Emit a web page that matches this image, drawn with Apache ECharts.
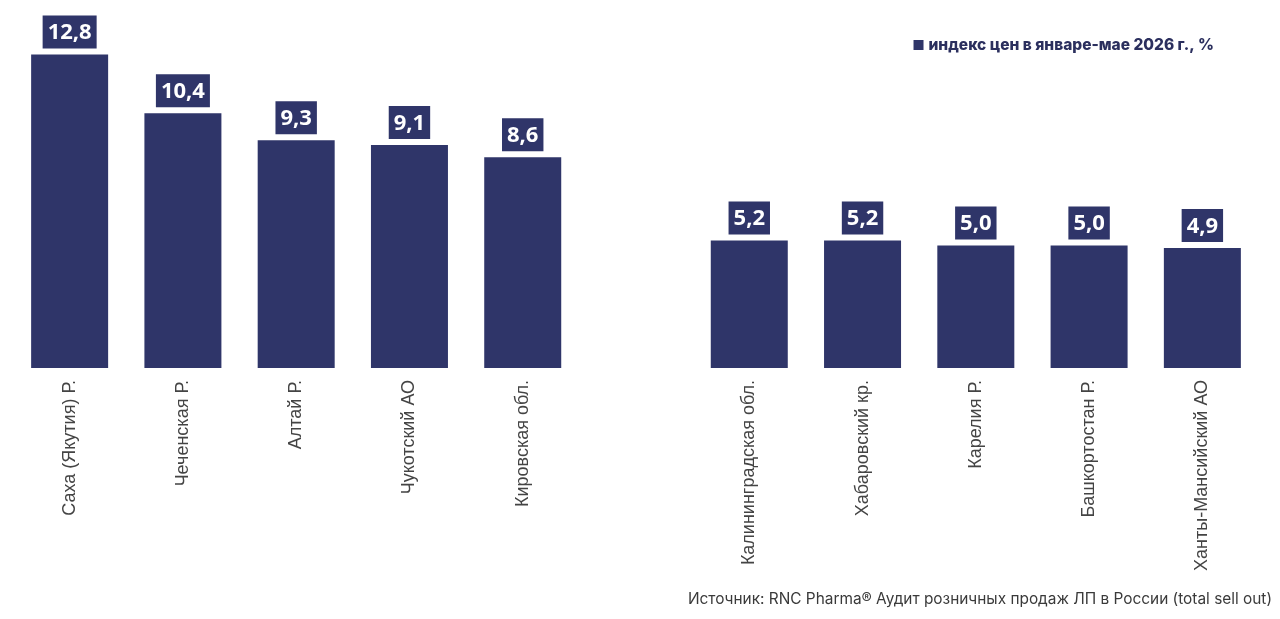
<!DOCTYPE html>
<html>
<head>
<meta charset="utf-8">
<script src="https://cdn.jsdelivr.net/npm/echarts@6/dist/echarts.min.js"></script>
<style>
    html, body { margin: 0; padding: 0; background: #fff; }
</style>
</head>
<body>

<div id="main" style="width: 1280px;height:619px;"></div>
<script type="text/javascript">
    // регионы (пустая категория — разрыв между группами)
    var regions = ['Саха (Якутия) Р.', 'Чеченская Р.', 'Алтай Р.', 'Чукотский АО', 'Кировская обл.',
        '', 'Калининградская обл.', 'Хабаровский кр.', 'Карелия Р.', 'Башкортостан Р.', 'Ханты-Мансийский АО'];
    var priceIndex = [12.8, 10.4, 9.3, 9.1, 8.6, null, 5.2, 5.2, 5.0, 5.0, 4.9];
    var seriesName = 'индекс цен в январе-мае 2026 г., %';
    var sourceText = 'Источник: RNC Pharma® Аудит розничных продаж ЛП в России (total sell out)';

    var navy = '#2f3569';

    var myChart = echarts.init(document.getElementById('main'));

    var option = {
        backgroundColor: '#fff',
        animation: false,
        legend: {
            data: [seriesName],
            right: 61,
            top: 32,
            icon: 'rect',
            itemWidth: 10,
            itemHeight: 10,
            itemGap: 5,
            textStyle: {
                fontFamily: 'Inter',
                fontWeight: 800,
                fontSize: 15.5,
                color: '#2b2f5e'
            }
        },
        graphic: [{
            type: 'text',
            right: 8,
            top: 592,
            style: {
                text: sourceText,
                fontFamily: 'Inter',
                fontSize: 15.4,
                fill: '#3a3a3a'
            }
        }],
        grid: {
            left: 13,
            right: 21,
            top: 25,
            height: 343,
            containLabel: false
        },
        xAxis: {
            type: 'category',
            data: regions,
            axisLine: { show: false },
            axisTick: { show: false },
            axisLabel: {
                rotate: 90,
                interval: 0,
                margin: 12,
                fontFamily: 'Liberation Sans',
                fontSize: 18,
                color: '#444'
            }
        },
        yAxis: {
            type: 'value',
            min: 0,
            max: 14,
            show: false,
            splitLine: { show: false }
        },
        series: [{
            name: seriesName,
            type: 'bar',
            data: priceIndex,
            barWidth: 77,
            itemStyle: { color: navy },
            label: {
                show: true,
                position: 'top',
                distance: 6,
                formatter: function (p) {
                    return p.value.toFixed(1).replace('.', ',');
                },
                backgroundColor: navy,
                padding: [6, 5, 4, 5],
                fontFamily: 'Open Sans',
                fontWeight: 'bold',
                fontSize: 22,
                lineHeight: 23,
                color: '#fff'
            }
        }]
    };

    myChart.setOption(option);
</script>
</body>
</html>
